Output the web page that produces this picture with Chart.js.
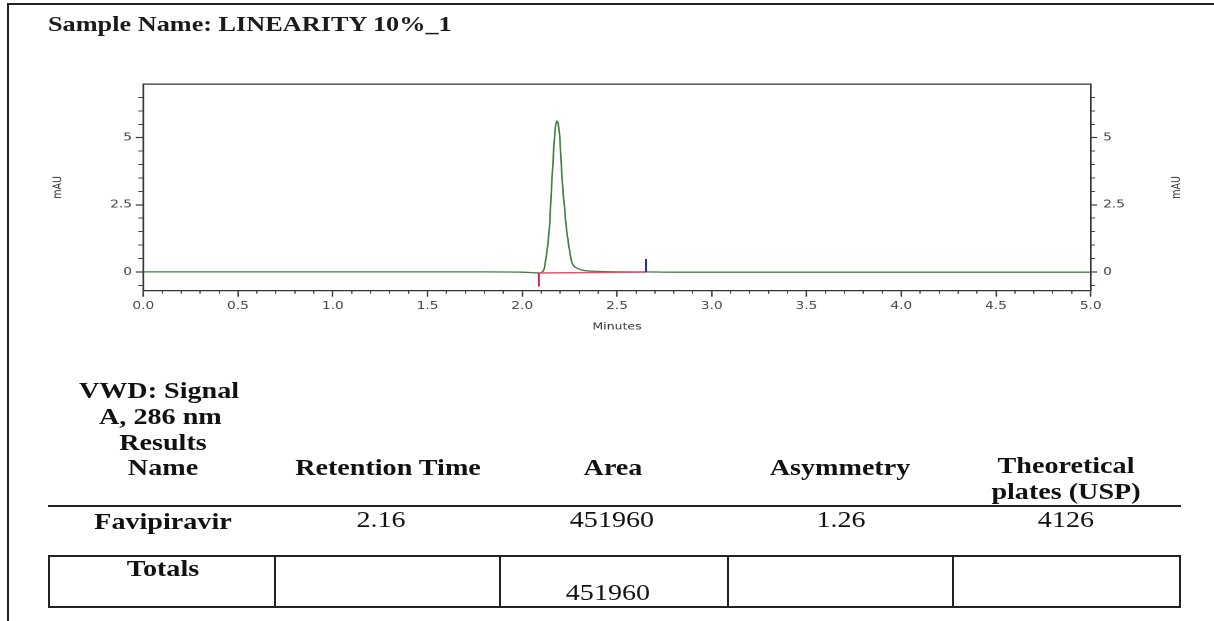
<!DOCTYPE html>
<html><head><meta charset="utf-8">
<script src="https://cdn.jsdelivr.net/npm/chart.js@4.4.1/dist/chart.umd.min.js"></script>
<style>
html,body{margin:0;padding:0;background:#fff;overflow:hidden;width:1214px;height:621px;}
#page{position:absolute;left:0;top:0;width:971.2px;height:621px;transform:scaleX(1.25);transform-origin:0 0;}
#chartBox{position:absolute;left:0;top:0;width:971.2px;height:345px;}
.t{position:absolute;white-space:nowrap;font-family:"Liberation Serif","Times New Roman",serif;font-size:22.5px;line-height:26px;color:#111;transform:translateX(-50%);}
.b{font-weight:bold;}
.ln{position:absolute;background:#222;}
#title{position:absolute;left:38.4px;top:12px;white-space:nowrap;font-family:"Liberation Serif","Times New Roman",serif;font-weight:bold;font-size:21px;line-height:24px;color:#1c1a1a;}
</style></head>
<body>
<div id="page">
  <div id="title">Sample Name: LINEARITY 10%_1</div>
  <div id="chartBox"><canvas id="c"></canvas></div>
</div>
<script>
// ---- data ----
const traceTimes  = [0.00, 0.30, 0.60, 0.90, 1.20, 1.50, 1.80, 2.00, 2.06, 2.09, 2.105, 2.115, 2.122, 2.130, 2.138, 2.145, 2.152, 2.159, 2.166, 2.173, 2.182, 2.190, 2.198, 2.208, 2.215, 2.222, 2.231, 2.240, 2.250, 2.261, 2.275, 2.296, 2.320, 2.360, 2.450, 2.650, 2.800, 3.200, 3.600, 4.000, 4.500, 5.000];
const traceSignal = [0.00, 0.00, 0.00, 0.00, 0.00, 0.00, 0.00, -0.01, -0.03, -0.04, 0.00, 0.10, 0.37, 0.75, 1.24, 1.85, 2.81, 3.72, 4.55, 5.25, 5.62, 5.50, 5.00, 3.72, 3.00, 2.48, 1.75, 1.24, 0.78, 0.37, 0.20, 0.12, 0.06, 0.03, 0.01, 0.00, -0.01, -0.01, -0.01, -0.01, -0.01, -0.01];
const baselineTimes  = [2.088, 2.653];
const baselineValues = [-0.04, -0.01];
const startMarkTimes  = [2.088, 2.088];
const startMarkValues = [-0.04, -0.55];
const endMarkTimes  = [2.653, 2.653];
const endMarkValues = [0.48, -0.01];

// ---- axes ----
const X_MIN = 0, X_MAX = 5, Y_MIN = -0.7, Y_MAX = 7;
const xMajorTicks = [0, 0.5, 1, 1.5, 2, 2.5, 3, 3.5, 4, 4.5, 5];
const xMinorTicks = [0,0.1,0.2,0.3,0.4,0.5,0.6,0.7,0.8,0.9,1,1.1,1.2,1.3,1.4,1.5,1.6,1.7,1.8,1.9,2,2.1,2.2,2.3,2.4,2.5,2.6,2.7,2.8,2.9,3,3.1,3.2,3.3,3.4,3.5,3.6,3.7,3.8,3.9,4,4.1,4.2,4.3,4.4,4.5,4.6,4.7,4.8,4.9,5];
const yMajorTicks = [0, 2.5, 5];
const yTickLabels = ['0', '2.5', '5'];
const yMinorTicks = [-0.5, 0, 0.5, 1, 1.5, 2, 2.5, 3, 3.5, 4, 4.5, 5, 5.5, 6, 6.5];
const xTitle = 'Minutes';
const yTitle = 'mAU';

// ---- results table ----
const tableHeaders = ['Name', 'Retention Time', 'Area', 'Asymmetry'];
const tableRow = ['Favipiravir', '2.16', '451960', '1.26', '4126'];
const totalsRow = ['Totals', '451960'];

const pts = (xs, ys) => xs.map((x, i) => ({x: x, y: ys[i]}));
const tickFont = {family: 'DejaVu Sans', size: 11};
const axisColor = '#333';
const setTicks = arr => s => { s.ticks = arr.map(v => ({value: v})); };

const rightTitle = {
  id: 'rightTitle',
  afterDraw(chart) {
    const ctx = chart.ctx;
    ctx.save();
    ctx.translate(941.4, (chart.chartArea.top + chart.chartArea.bottom) / 2);
    ctx.rotate(-Math.PI / 2);
    ctx.font = '9.5px "DejaVu Sans"';
    ctx.fillStyle = '#333';
    ctx.textAlign = 'center';
    ctx.textBaseline = 'middle';
    ctx.fillText(yTitle, 0, 0);
    ctx.restore();
  }
};

new Chart(document.getElementById('c'), {
  type: 'line',
  data: {
    datasets: [
      {data: pts(startMarkTimes, startMarkValues), borderColor: '#d8264a', borderWidth: 1.5, pointRadius: 0, xAxisID: 'x', yAxisID: 'y'},
      {data: pts(endMarkTimes, endMarkValues), borderColor: '#2326c4', borderWidth: 1.5, pointRadius: 0, xAxisID: 'x', yAxisID: 'y'},
      {data: pts(baselineTimes, baselineValues), borderColor: '#ea5068', borderWidth: 1.5, pointRadius: 0, xAxisID: 'x', yAxisID: 'y'},
      {data: pts(traceTimes, traceSignal), borderColor: '#3f7d42', borderWidth: 1.3, pointRadius: 0, cubicInterpolationMode: 'monotone', xAxisID: 'x', yAxisID: 'y'}
    ]
  },
  options: {
    responsive: true,
    maintainAspectRatio: false,
    devicePixelRatio: 2,
    animation: false,
    events: [],
    layout: {padding: {top: 84, left: 0, right: 0, bottom: 0}, autoPadding: false},
    plugins: {legend: {display: false}, tooltip: {enabled: false}},
    scales: {
      x: {
        type: 'linear', position: 'bottom', weight: 1, min: X_MIN, max: X_MAX,
        afterBuildTicks: setTicks(xMajorTicks),
        afterFit: s => { s.height = 54.3; },
        ticks: {callback: v => v.toFixed(1), font: tickFont, color: '#444', padding: 3, maxRotation: 0, autoSkip: false},
        grid: {drawOnChartArea: false, tickLength: 6, tickColor: axisColor, tickWidth: 1.2},
        border: {display: true, color: axisColor, width: 1.3},
        title: {display: true, text: xTitle, font: {family: 'DejaVu Sans', size: 10}, color: '#333', padding: {top: 0, bottom: 12}}
      },
      x2: {
        type: 'linear', position: 'bottom', weight: 0, min: X_MIN, max: X_MAX,
        afterBuildTicks: setTicks(xMinorTicks),
        afterFit: s => { s.height = 0; },
        ticks: {display: false},
        grid: {drawOnChartArea: false, tickLength: 3, tickColor: '#444', tickWidth: 1},
        border: {display: false}
      },
      xTop: {
        type: 'linear', position: 'top', weight: 0, min: X_MIN, max: X_MAX,
        afterFit: s => { s.height = 0; },
        ticks: {display: false},
        grid: {drawOnChartArea: false, drawTicks: false},
        border: {display: true, color: axisColor, width: 1.3}
      },
      y: {
        type: 'linear', position: 'left', weight: 1, min: Y_MIN, max: Y_MAX,
        afterBuildTicks: setTicks(yMajorTicks),
        afterFit: s => { s.width = 114.64; },
        ticks: {callback: v => yTickLabels[yMajorTicks.indexOf(v)], font: tickFont, color: '#444', padding: 3},
        grid: {drawOnChartArea: false, tickLength: 6, tickColor: axisColor, tickWidth: 1.2},
        border: {display: true, color: axisColor, width: 1.3},
        title: {display: true, text: yTitle, font: {family: 'DejaVu Sans', size: 9.5}, color: '#333', padding: {top: 40.7, bottom: 0}}
      },
      y2: {
        type: 'linear', position: 'left', weight: 0, min: Y_MIN, max: Y_MAX,
        afterBuildTicks: setTicks(yMinorTicks),
        afterFit: s => { s.width = 0; },
        ticks: {display: false},
        grid: {drawOnChartArea: false, tickLength: 4, tickColor: '#444', tickWidth: 1},
        border: {display: false}
      },
      yR: {
        type: 'linear', position: 'right', weight: 1, min: Y_MIN, max: Y_MAX,
        afterBuildTicks: setTicks(yMajorTicks),
        afterFit: s => { s.width = 98.64; },
        ticks: {callback: v => yTickLabels[yMajorTicks.indexOf(v)], font: tickFont, color: '#444', padding: 5},
        grid: {drawOnChartArea: false, tickLength: 5, tickColor: axisColor, tickWidth: 1.2},
        border: {display: true, color: axisColor, width: 1.3}
      },
      yR2: {
        type: 'linear', position: 'right', weight: 0, min: Y_MIN, max: Y_MAX,
        afterBuildTicks: setTicks(yMinorTicks),
        afterFit: s => { s.width = 0; },
        ticks: {display: false},
        grid: {drawOnChartArea: false, tickLength: 3.5, tickColor: '#444', tickWidth: 1},
        border: {display: false}
      }
    }
  },
  plugins: [rightTitle]
});

// ---- table (HTML text, in the stretched page) ----
const page = document.getElementById('page');
function txt(s, cx, top, bold) {
  const d = document.createElement('div');
  d.className = 't' + (bold ? ' b' : '');
  d.style.left = cx + 'px';
  d.style.top = top + 'px';
  d.textContent = s;
  page.appendChild(d);
}
// rules drawn in screen pixels (unscaled)
function line(l, t, w, h) {
  const d = document.createElement('div');
  d.className = 'ln';
  d.style.left = l + 'px'; d.style.top = t + 'px';
  d.style.width = w + 'px'; d.style.height = h + 'px';
  document.body.appendChild(d);
}
txt('VWD: Signal', 127.2, 378, true);
txt('A, 286 nm', 128.3, 404, true);
txt('Results', 130.4, 430, true);
const headerCx = [130.4, 310.4, 490.4, 672];
tableHeaders.forEach((h, i) => txt(h, headerCx[i], 455, true));
txt('Theoretical', 852.8, 453, true);
txt('plates (USP)', 852.8, 479, true);
const rowCx = [130.4, 304.8, 489.6, 672.8, 852.8];
tableRow.forEach((v, i) => txt(v, rowCx[i], i === 0 ? 508.5 : 507, i === 0));
txt(totalsRow[0], 130.4, 556, true);
txt(totalsRow[1], 486.4, 580, false);

line(8, 3, 1206, 2);
line(7, 3, 2, 618);
line(48, 505, 1133, 1.5);
line(48, 555, 1133, 2);
line(48, 606, 1133, 2);
[48, 274, 499, 727, 952, 1179].forEach(x => line(x, 555, 2, 53));
</script>
</body></html>
